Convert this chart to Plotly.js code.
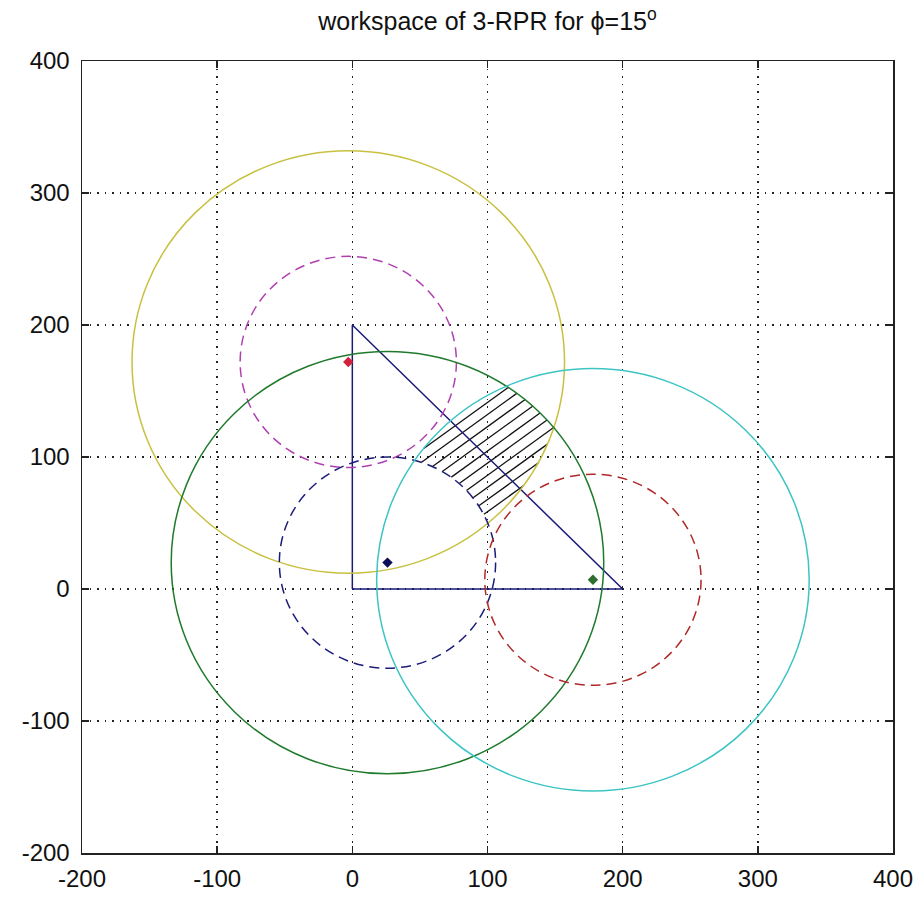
<!DOCTYPE html>
<html>
<head>
<meta charset="utf-8">
<script src="https://cdn.plot.ly/plotly-3.0.1.min.js"></script>
<style>html,body{margin:0;padding:0;background:#fff}#chart{width:922px;height:898px}</style>
</head>
<body>
<div id="chart"></div>
<script>
// ---- data ----
const centerX = [-3, 26, 178];          // leg base points (red, navy, green dots)
const centerY = [172, 20, 7];
const innerR = [80, 80, 80];            // dashed circles
const outerR = [160, 160, 160];         // solid circles
const outerColors = ['#c8c040', '#1f7a2c', '#3ec4c4'];
const innerColors = ['#b040b0', '#1c1c7a', '#b02a2a'];
const dotColors = ['#d0203a', '#0c0c5a', '#2e6e2e'];
const triX = [0, 200, 0, 0];
const triY = [0, 0, 200, 0];
const tickVals = [-200, -100, 0, 100, 200, 300, 400];
const tickText = ['-200', '-100', '0', '100', '200', '300', '400'];
const titleText = 'workspace of 3-RPR for \u03d5=15<sup>o</sup>';

// ---- hatching of the workspace (intersection of the three annuli) ----
const hatchSlope = 0.74;     // direction of hatch lines (data units)
const hatchSpacing = 7.4;    // perpendicular spacing (data units)
function insideWorkspace(x, y) {
  for (let i = 0; i < centerX.length; i++) {
    const d = Math.hypot(x - centerX[i], y - centerY[i]);
    if (d < innerR[i] || d > outerR[i]) return false;
  }
  return true;
}
const hx = [], hy = [];
(function () {
  const len = Math.hypot(1, hatchSlope);
  const dx = 1 / len, dy = hatchSlope / len;
  const nx = -dy, ny = dx;
  const ox = (centerX[0] + centerX[1] + centerX[2]) / 3;
  const oy = (centerY[0] + centerY[1] + centerY[2]) / 3;
  for (let k = -60; k <= 60; k++) {
    const bx = ox + nx * (k + 0.5) * hatchSpacing, by = oy + ny * (k + 0.5) * hatchSpacing;
    let inRun = false, sx = 0, sy = 0, px = 0, py = 0;
    for (let t = -300; t <= 300; t += 0.2) {
      const x = bx + dx * t, y = by + dy * t;
      const ins = insideWorkspace(x, y);
      if (ins && !inRun) { inRun = true; sx = x; sy = y; }
      if (!ins && inRun) {
        inRun = false;
        hx.push(sx, px, null); hy.push(sy, py, null);
      }
      px = x; py = y;
    }
  }
})();

const shapes = [];
for (let i = 0; i < centerX.length; i++) {
  shapes.push({type: 'circle', xref: 'x', yref: 'y',
    x0: centerX[i] - outerR[i], x1: centerX[i] + outerR[i],
    y0: centerY[i] - outerR[i], y1: centerY[i] + outerR[i],
    line: {color: outerColors[i], width: 1.5}});
  shapes.push({type: 'circle', xref: 'x', yref: 'y',
    x0: centerX[i] - innerR[i], x1: centerX[i] + innerR[i],
    y0: centerY[i] - innerR[i], y1: centerY[i] + innerR[i],
    line: {color: innerColors[i], width: 1.5, dash: '10px,6px'}});
}

const traces = [
  {x: hx, y: hy, mode: 'lines', line: {color: '#111', width: 1.3}, hoverinfo: 'skip'},
  {x: triX, y: triY, mode: 'lines', line: {color: '#1a1a78', width: 1.5}},
  {x: centerX, y: centerY, mode: 'markers',
   marker: {symbol: 'diamond', size: 8, color: dotColors}}
];

const fontFam = 'Liberation Sans, Arial, sans-serif';
const axisCommon = {
  range: [-200, 400], tickmode: 'array', tickvals: tickVals, ticktext: tickText,
  showgrid: true, gridcolor: '#222', gridwidth: 1.5, griddash: '1.5px,6px',
  zeroline: false, showline: true, linecolor: '#222', linewidth: 1.5, mirror: 'ticks',
  ticks: 'inside', ticklen: 7, tickcolor: '#222', tickwidth: 1.5,
  tickfont: {family: fontFam, size: 24, color: '#111'}, fixedrange: true
};

const layout = {
  width: 922, height: 898,
  margin: {l: 82, r: 29, t: 61, b: 45, pad: 0},
  paper_bgcolor: '#fff', plot_bgcolor: '#fff',
  showlegend: false,
  title: {text: titleText, x: 0.5, xref: 'paper', xanchor: 'center',
          y: 0.976, yref: 'container', yanchor: 'middle',
          font: {family: fontFam, size: 25, color: '#111'}},
  xaxis: Object.assign({}, axisCommon, {ticklabelstandoff: 4}),
  yaxis: Object.assign({}, axisCommon, {ticklabelstandoff: 6}),
  shapes: shapes
};

Plotly.newPlot('chart', traces, layout, {displayModeBar: false, staticPlot: true});
</script>
</body>
</html>
